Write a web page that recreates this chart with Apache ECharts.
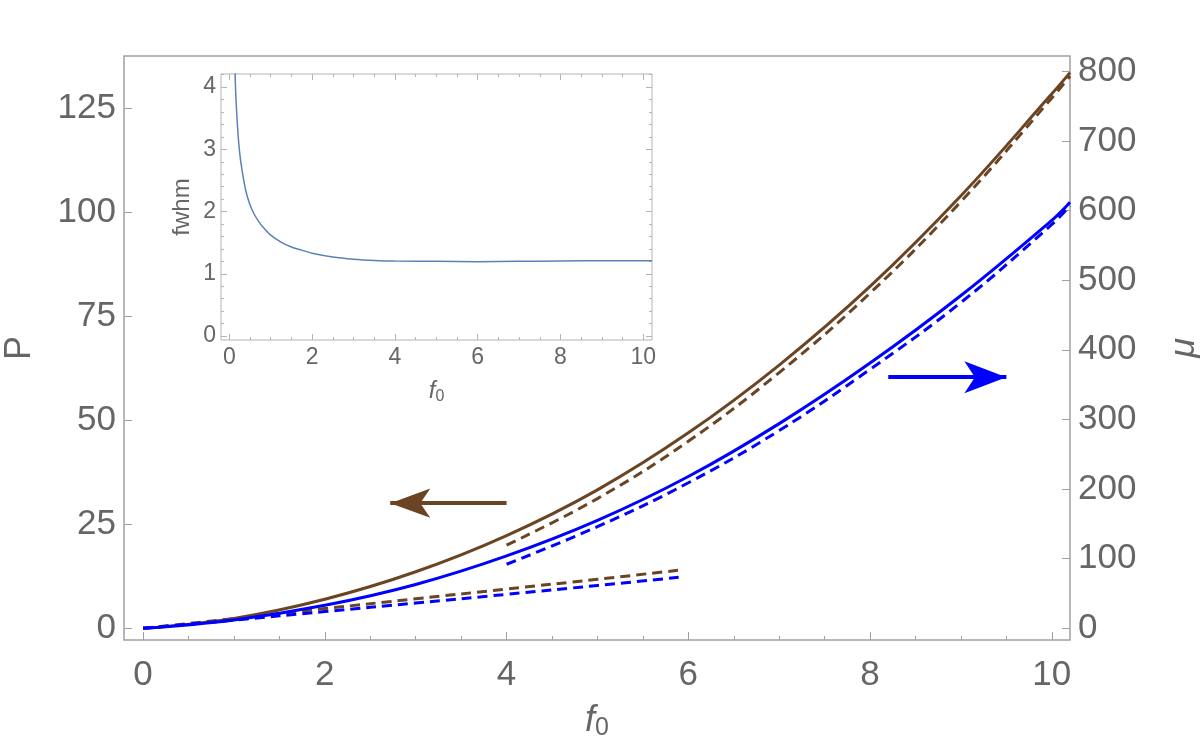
<!DOCTYPE html>
<html>
<head>
<meta charset="utf-8">
<script src="https://cdn.jsdelivr.net/npm/echarts@6/dist/echarts.min.js"></script>
<style>
  html, body { margin: 0; padding: 0; background: #fff; }
  #chart { width: 1200px; height: 755px; }
</style>
</head>
<body>
<div id="chart"></div>
<script>
// main plot: P (left axis, brown) and mu (right axis, blue) vs f0
const brownSolidX = [0, 1, 2, 3, 4, 5, 6, 7, 8, 9, 10, 10.2];
const brownSolidP = [0, 2.4, 7.0, 13.6, 22.3, 33.3, 47.0, 63.3, 82.2, 104.0, 128.5, 133.6];

const brownUpperX = [4, 5, 6, 7, 8, 9, 10, 10.2];
const brownUpperP = [20.0, 31.2, 45.0, 61.5, 80.6, 102.6, 127.5, 132.8];

const brownLowerX = [0, 1, 2, 3, 4, 5, 5.95];
const brownLowerP = [0, 2.35, 4.75, 7.1, 9.45, 11.8, 14.1];

const blueSolidX = [0, 1, 2, 3, 4, 5, 6, 7, 8, 9, 10, 10.2];
const blueSolidMu = [0, 12, 33, 63, 104, 155, 218, 294, 381, 478, 586, 612];

const blueUpperX = [4, 5, 6, 7, 8, 9, 10, 10.2];
const blueUpperMu = [92, 146, 209, 284, 372, 468, 580, 607];

const blueLowerX = [0, 1, 2, 3, 4, 5, 5.95];
const blueLowerMu = [0, 11.8, 24, 36.3, 48.8, 61.5, 74];

// arrows (data coords): brown points to P axis, blue to mu axis
const brownArrow = [[4.0, 30.1], [2.72, 30.1]];
const blueArrow = [[8.2, 360.7], [9.5, 360.7]];

// inset: fwhm vs f0
const fwhmX = [0.12, 0.15, 0.2, 0.25, 0.3, 0.4, 0.5, 0.6, 0.7, 0.8, 1.0, 1.25, 1.5, 1.75, 2, 2.5, 3, 3.5, 4, 5, 6, 7, 8, 9, 10, 10.21];
const fwhmY = [4.8, 4.0, 3.35, 2.95, 2.7, 2.33, 2.11, 1.96, 1.85, 1.76, 1.62, 1.51, 1.43, 1.38, 1.33, 1.27, 1.235, 1.215, 1.205, 1.2, 1.195, 1.2, 1.205, 1.21, 1.21, 1.21];

// ticks
const xLabels = [0, 2, 4, 6, 8, 10];
const xMinor = [0.5, 1, 1.5, 2.5, 3, 3.5, 4.5, 5, 5.5, 6.5, 7, 7.5, 8.5, 9, 9.5];
const pLabels = [0, 25, 50, 75, 100, 125];
const muLabels = [0, 100, 200, 300, 400, 500, 600, 700, 800];
const insetXLabels = [0, 2, 4, 6, 8, 10];
const insetXMinor = [0.5, 1, 1.5, 2.5, 3, 3.5, 4.5, 5, 5.5, 6.5, 7, 7.5, 8.5, 9, 9.5];
const insetYLabels = [0, 1, 2, 3, 4];
const insetYMinor = [0.2, 0.4, 0.6, 0.8, 1.2, 1.4, 1.6, 1.8, 2.2, 2.4, 2.6, 2.8, 3.2, 3.4, 3.6, 3.8, 4.2];

const BROWN = '#6b4423';
const BLUE = '#0000ff';
const FRAME = '#a0a0a0';
const INSET_FRAME = '#b4b4b4';
const TEXT = '#666666';
const FONT = 'Liberation Sans';

const zip = (xs, ys) => xs.map((x, i) => [x, ys[i]]);

const fName = (big, small, pad) => ({
  f: { fontStyle: 'italic', fontSize: big, color: TEXT, fontFamily: FONT },
  s: { fontSize: small, color: TEXT, fontFamily: FONT, padding: [pad, 0, 0, 0] }
});

const noLine = { show: false, onZero: false };

// an axis that only draws tick marks (minor ticks, opposite frame sides)
const tickAxis = (base, values, len, color) => Object.assign({
  axisLine: noLine,
  splitLine: { show: false },
  axisLabel: { show: false },
  axisTick: { show: true, inside: true, length: len, customValues: values, lineStyle: { color: color, width: 1 } }
}, base);

const chart = echarts.init(document.getElementById('chart'));

const mainX = { gridIndex: 0, type: 'value', min: -0.21, max: 10.2, position: 'bottom' };
const insetX = { gridIndex: 1, type: 'value', min: -0.2, max: 10.21, position: 'bottom' };
const pY = { gridIndex: 0, type: 'value', min: -2.8, max: 137.6, position: 'left' };
const muY = { gridIndex: 0, type: 'value', min: -16.8, max: 822, position: 'right' };
const insetYL = { gridIndex: 1, type: 'value', min: -0.064, max: 4.21, position: 'left' };
const insetYR = { gridIndex: 1, type: 'value', min: -0.064, max: 4.21, position: 'right' };

const option = {
  animation: false,
  backgroundColor: '#fff',
  grid: [
    { left: 124, right: 130, top: 56, bottom: 115, outerBoundsMode: 'none', containLabel: false,
      show: true, borderColor: FRAME, borderWidth: 1.5 },
    { left: 221, top: 74, width: 431, height: 266, outerBoundsMode: 'none', containLabel: false,
      show: true, backgroundColor: '#fff', borderColor: INSET_FRAME, borderWidth: 1 }
  ],
  xAxis: [
    Object.assign({}, mainX, {
      axisLine: noLine,
      splitLine: { show: false },
      axisTick: { inside: true, length: 8, customValues: xLabels, lineStyle: { color: FRAME } },
      axisLabel: { customValues: xLabels, fontSize: 35, color: TEXT, fontFamily: FONT, margin: 18 },
      name: '{f|f}{s|0}',
      nameLocation: 'middle',
      nameGap: 60,
      nameTextStyle: { rich: fName(36, 25, 16) }
    }),
    tickAxis(Object.assign({}, mainX), xMinor, 4, FRAME),
    Object.assign({}, insetX, {
      axisLine: noLine,
      splitLine: { show: false },
      axisTick: { inside: true, length: 6, customValues: insetXLabels, lineStyle: { color: INSET_FRAME } },
      axisLabel: { customValues: insetXLabels, fontSize: 23, color: TEXT, fontFamily: FONT, margin: 6 },
      name: '{f|f}{s|0}',
      nameLocation: 'middle',
      nameGap: 38,
      nameTextStyle: { rich: fName(24, 16, 11) }
    }),
    tickAxis(Object.assign({}, insetX), insetXMinor, 3, INSET_FRAME),
    tickAxis(Object.assign({}, insetX, { position: 'top' }), insetXLabels, 6, INSET_FRAME),
    tickAxis(Object.assign({}, insetX, { position: 'top' }), insetXMinor, 3, INSET_FRAME)
  ],
  yAxis: [
    Object.assign({}, pY, {
      axisLine: noLine,
      splitLine: { show: false },
      axisTick: { inside: true, length: 8, customValues: pLabels, lineStyle: { color: FRAME } },
      axisLabel: { customValues: pLabels, fontSize: 35, color: TEXT, fontFamily: FONT, margin: 8 },
      name: 'P',
      nameLocation: 'middle',
      nameRotate: 90,
      nameGap: 86,
      nameTextStyle: { fontSize: 36, color: TEXT, fontFamily: FONT }
    }),
    Object.assign({}, muY, {
      axisLine: noLine,
      splitLine: { show: false },
      axisTick: { inside: true, length: 8, customValues: muLabels, lineStyle: { color: FRAME } },
      axisLabel: { customValues: muLabels, fontSize: 35, color: TEXT, fontFamily: FONT, margin: 8 },
      name: 'μ',
      nameLocation: 'middle',
      nameRotate: 90,
      nameGap: 96,
      nameTextStyle: { fontSize: 36, fontStyle: 'italic', color: TEXT, fontFamily: FONT }
    }),
    Object.assign({}, insetYL, {
      axisLine: noLine,
      splitLine: { show: false },
      axisTick: { inside: true, length: 6, customValues: insetYLabels, lineStyle: { color: INSET_FRAME } },
      axisLabel: { customValues: insetYLabels, fontSize: 23, color: TEXT, fontFamily: FONT, margin: 5 },
      name: 'fwhm',
      nameLocation: 'middle',
      nameRotate: 90,
      nameGap: 27,
      nameTextStyle: { fontSize: 24, color: TEXT, fontFamily: FONT }
    }),
    tickAxis(Object.assign({}, insetYL), insetYMinor, 3, INSET_FRAME),
    tickAxis(Object.assign({}, insetYR), insetYLabels, 6, INSET_FRAME),
    tickAxis(Object.assign({}, insetYR), insetYMinor, 3, INSET_FRAME)
  ],
  series: [
    {
      name: 'P exact', type: 'line', xAxisIndex: 0, yAxisIndex: 0,
      data: zip(brownSolidX, brownSolidP), showSymbol: false, smooth: 0.4,
      lineStyle: { color: BROWN, width: 3 },
      markLine: {
        silent: true, animation: false,
        symbol: ['none', 'arrow'], symbolSize: [22, 40],
        label: { show: false },
        lineStyle: { color: BROWN, width: 4, type: 'solid' },
        data: [[{ coord: brownArrow[0] }, { coord: brownArrow[1] }]]
      }
    },
    {
      name: 'P large', type: 'line', xAxisIndex: 0, yAxisIndex: 0,
      data: zip(brownUpperX, brownUpperP), showSymbol: false, smooth: 0.4,
      lineStyle: { color: BROWN, width: 3, type: [10, 6] }
    },
    {
      name: 'P small', type: 'line', xAxisIndex: 0, yAxisIndex: 0,
      data: zip(brownLowerX, brownLowerP), showSymbol: false, smooth: 0.4,
      lineStyle: { color: BROWN, width: 3, type: [10, 6] }
    },
    {
      name: 'mu exact', type: 'line', xAxisIndex: 0, yAxisIndex: 1,
      data: zip(blueSolidX, blueSolidMu), showSymbol: false, smooth: 0.4,
      lineStyle: { color: BLUE, width: 3 },
      markLine: {
        silent: true, animation: false,
        symbol: ['none', 'arrow'], symbolSize: [24, 42],
        label: { show: false },
        lineStyle: { color: BLUE, width: 4, type: 'solid' },
        data: [[{ coord: blueArrow[0] }, { coord: blueArrow[1] }]]
      }
    },
    {
      name: 'mu large', type: 'line', xAxisIndex: 0, yAxisIndex: 1,
      data: zip(blueUpperX, blueUpperMu), showSymbol: false, smooth: 0.4,
      lineStyle: { color: BLUE, width: 3, type: [10, 6] }
    },
    {
      name: 'mu small', type: 'line', xAxisIndex: 0, yAxisIndex: 1,
      data: zip(blueLowerX, blueLowerMu), showSymbol: false, smooth: 0.4,
      lineStyle: { color: BLUE, width: 3, type: [10, 6] }
    },
    {
      name: 'fwhm', type: 'line', xAxisIndex: 2, yAxisIndex: 2,
      data: zip(fwhmX, fwhmY), showSymbol: false, smooth: 0.3,
      lineStyle: { color: '#5e81b5', width: 1.5 }
    }
  ]
};

chart.setOption(option);
</script>
</body>
</html>
